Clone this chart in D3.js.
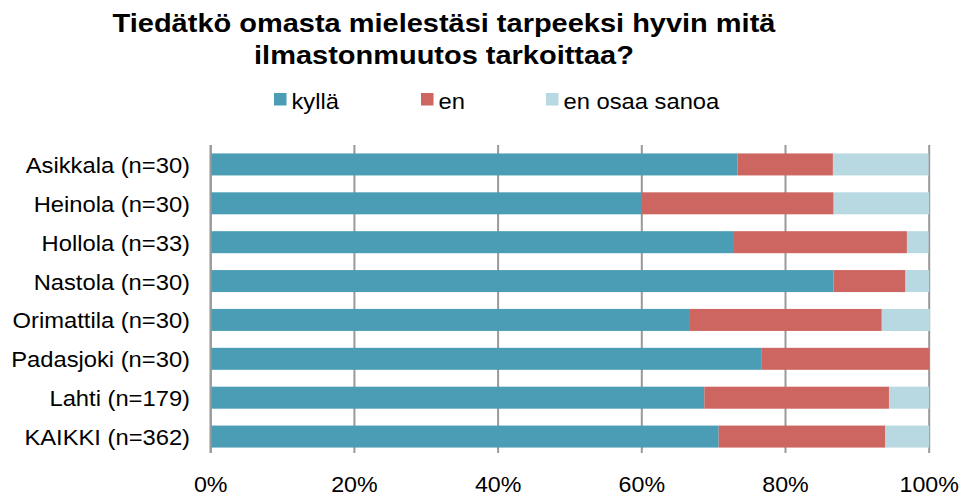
<!DOCTYPE html>
<html>
<head>
<meta charset="utf-8">
<script src="https://cdn.jsdelivr.net/npm/d3@7"></script>
<style>
  html, body { margin: 0; padding: 0; background: #fff; }
  svg { display: block; font-family: "Liberation Sans", Arial, sans-serif; }
</style>
</head>
<body>
<svg id="chart" width="961" height="494"></svg>
<script>
// ---- data ----
const titleLines = ["Tiedätkö omasta mielestäsi tarpeeksi hyvin mitä", "ilmastonmuutos tarkoittaa?"];
const categories = ["Asikkala (n=30)", "Heinola (n=30)", "Hollola (n=33)", "Nastola (n=30)",
                    "Orimattila (n=30)", "Padasjoki (n=30)", "Lahti (n=179)", "KAIKKI (n=362)"];
const seriesNames = ["kyllä", "en", "en osaa sanoa"];
const kylla    = [73.3, 60.0, 72.7, 86.7, 66.7, 76.7, 68.7, 70.7];
const en       = [13.3, 26.7, 24.2, 10.0, 26.7, 23.3, 25.7, 23.2];
const enOsaa   = [13.3, 13.3,  3.0,  3.3,  6.7,  0.0,  5.6,  6.1];
const tickValues = [0, 20, 40, 60, 80, 100];
const tickLabels = ["0%", "20%", "40%", "60%", "80%", "100%"];
const colors = ["#4b9db5", "#cd6660", "#b8d8e2"];

// ---- build ----
const rows = categories.map((c, i) => ({ cat: c, "kyllä": kylla[i], "en": en[i], "en osaa sanoa": enOsaa[i] }));
const stacked = d3.stack().keys(seriesNames)(rows);

const svg = d3.select("#chart");
const SX = 1.08;

const x = d3.scaleLinear().domain([0, 100]).range([210.7, 929.2]);
const y = d3.scaleBand().domain(categories).range([145, 456]).paddingInner(0.434).paddingOuter(0.217);

// stretched text helper
function stext(parent, px, py, str, opts) {
  const g = parent.append("g").attr("transform", `translate(${px},${py}) scale(${opts.sx || SX},1)`);
  return g.append("text")
    .attr("x", 0).attr("y", 0)
    .attr("text-anchor", opts.anchor || "start")
    .attr("font-size", opts.size || 22)
    .attr("font-weight", opts.weight || "normal")
    .attr("fill", "#000")
    .text(str);
}

// gridlines
svg.append("g").selectAll("line").data(tickValues).join("line")
  .attr("x1", d => x(d)).attr("x2", d => x(d))
  .attr("y1", 145).attr("y2", 453)
  .attr("stroke", "#999").attr("stroke-width", 2);

// bars
svg.append("g").selectAll("g").data(stacked).join("g")
  .attr("fill", (d, i) => colors[i])
  .selectAll("rect").data(d => d.map(v => ({ v, cat: v.data.cat }))).join("rect")
  .attr("x", d => x(d.v[0]))
  .attr("width", d => Math.max(0, x(d.v[1]) - x(d.v[0])))
  .attr("y", d => y(d.cat))
  .attr("height", y.bandwidth());

// axis line at 0
svg.append("line").attr("x1", x(0)).attr("x2", x(0)).attr("y1", 145).attr("y2", 453)
  .attr("stroke", "#999").attr("stroke-width", 2);

// category labels
categories.forEach(c => {
  stext(svg, 190, y(c) + y.bandwidth() / 2 + 8.5, c, { anchor: "end", size: 22 });
});

// tick labels
tickValues.forEach((v, i) => {
  stext(svg, x(v), 492, tickLabels[i], { anchor: "middle", size: 21.5 });
});

// title
stext(svg, 444, 32, titleLines[0], { anchor: "middle", size: 26, weight: "bold", sx: 1.115 });
stext(svg, 444, 64, titleLines[1], { anchor: "middle", size: 26, weight: "bold", sx: 1.115 });

// legend
const legX = [274, 421, 546];
seriesNames.forEach((s, i) => {
  svg.append("rect").attr("x", legX[i]).attr("y", 93).attr("width", 12.5).attr("height", 12.5).attr("fill", colors[i]);
  stext(svg, legX[i] + 17.5, 109, s, { anchor: "start", size: 22 });
});
</script>
</body>
</html>
